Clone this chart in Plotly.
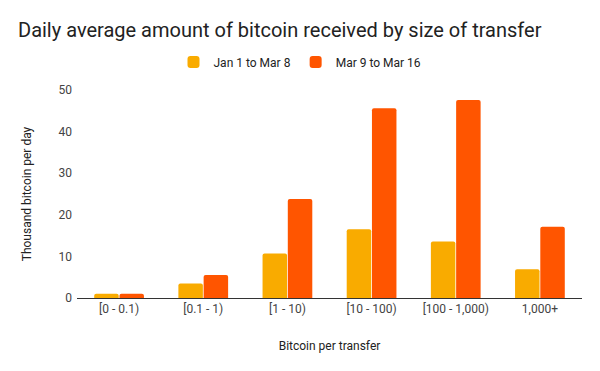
import plotly.graph_objects as go

categories = ["[0 - 0.1)", "[0.1 - 1)", "[1 - 10)", "[10 - 100)", "[100 - 1,000)", "1,000+"]
jan_mar8 = [1.0, 3.5, 10.7, 16.5, 13.6, 6.9]
mar9_mar16 = [1.0, 5.5, 23.8, 45.6, 47.6, 17.1]
series_names = ["Jan 1 to Mar 8", "Mar 9 to Mar 16"]
y_ticks = [0, 10, 20, 30, 40, 50]

fig = go.Figure()
fig.add_trace(go.Bar(x=categories, y=jan_mar8, name=series_names[0],
                     marker=dict(color="#f9ab00", cornerradius=2, line=dict(width=0))))
fig.add_trace(go.Bar(x=categories, y=mar9_mar16, name=series_names[1],
                     marker=dict(color="#ff5500", cornerradius=2, line=dict(width=0))))

fig.update_layout(
    width=600, height=371,
    margin=dict(l=77, r=18, t=90, b=73, autoexpand=False),
    paper_bgcolor="white", plot_bgcolor="white",
    font=dict(family="Roboto", size=12, color="#444"),
    title=dict(text="Daily average amount of bitcoin received by size of transfer",
               x=18 / 600, xref="container", xanchor="left",
               y=1 - 30 / 371, yref="container", yanchor="middle",
               font=dict(size=20, color="#222", family="Roboto")),
    barmode="group", bargap=0.4, bargroupgap=0.03,
    legend=dict(orientation="h", x=0.5, xref="container", xanchor="center",
                y=1 - 62 / 371, yref="container", yanchor="middle",
                font=dict(size=12, color="#222"), itemwidth=30),
    showlegend=True,
)
fig.update_xaxes(showline=True, linecolor="#333", linewidth=1, ticks="", automargin=False,
                 tickfont=dict(size=12, color="#444"),
                 title=dict(text="Bitcoin per transfer", font=dict(size=12, color="#222"), standoff=26))
fig.update_yaxes(range=[0, 50], tickvals=y_ticks, showgrid=False, zeroline=False, automargin=False,
                 tickfont=dict(size=12, color="#444"), ticks="", ticklabelstandoff=4,
                 title=dict(text="Thousand bitcoin per day", font=dict(size=12, color="#222"), standoff=24))

fig.write_html("out.html", post_script="document.body.style.margin='0';",
               config={"displayModeBar": False})
